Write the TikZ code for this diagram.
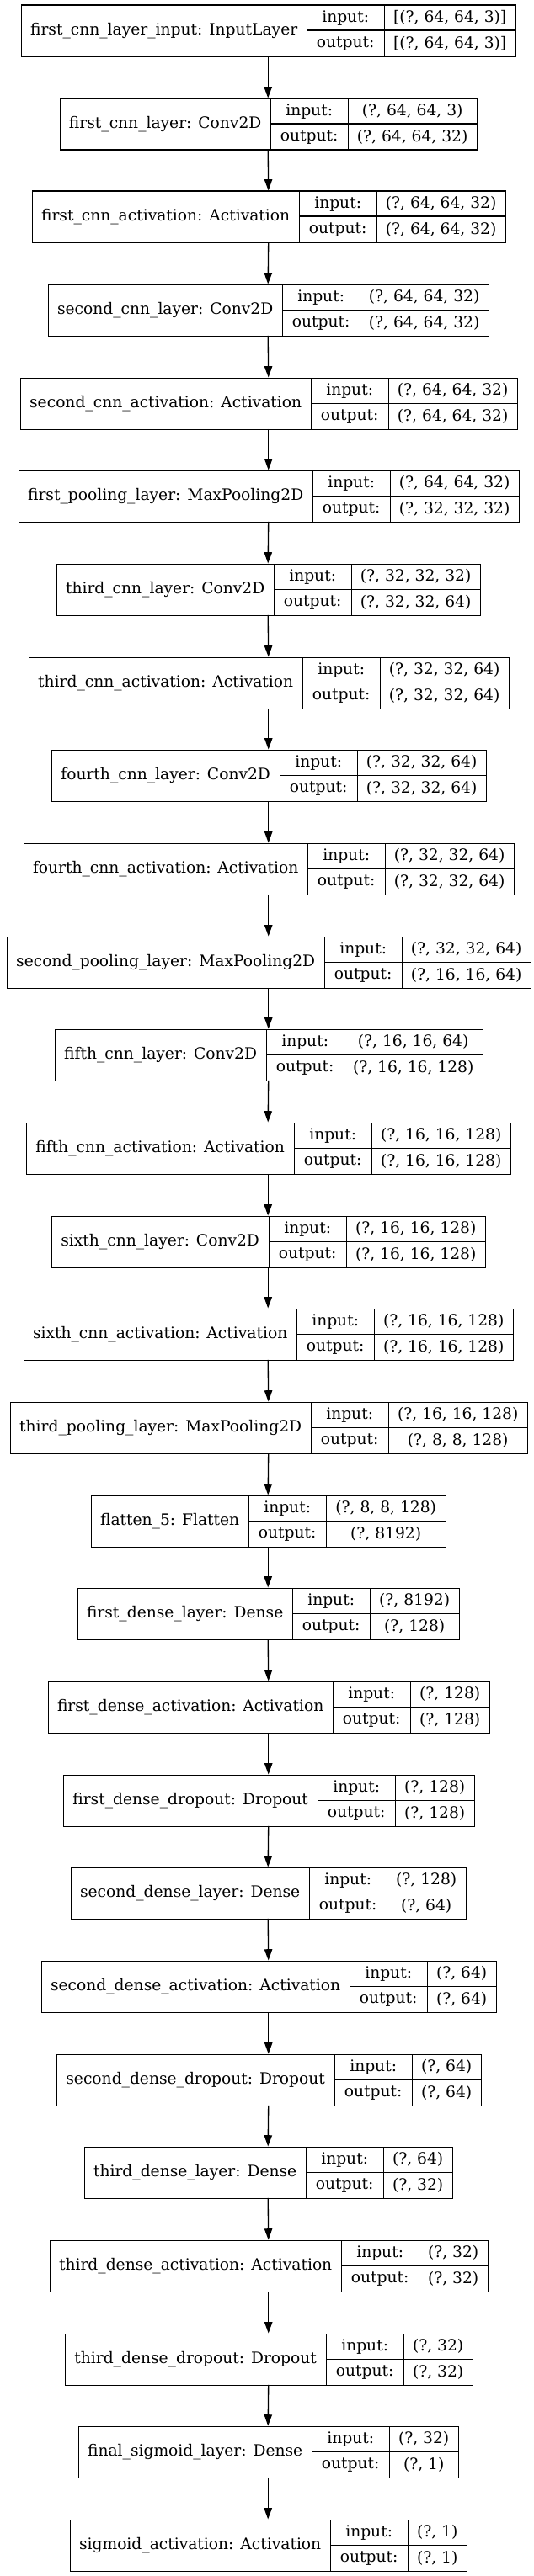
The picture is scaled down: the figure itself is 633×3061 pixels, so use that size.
\documentclass[tikz,border=0pt]{standalone}
\usepackage{fontspec}
\setmainfont{DejaVu Serif}
\usetikzlibrary{arrows.meta}
\newlength\lyA \newlength\lyC \newlength\lyT
\newcommand\lfont{\fontsize{18.67}{22}\selectfont}
\tikzset{
  cell/.style={draw=black, line width=1.33pt, inner sep=0pt, anchor=north west, font=\lfont},
  rec/.style={inner sep=0pt, minimum height=61pt, anchor=north west},
  flow/.style={line width=1.33pt, -{Triangle[length=13.3pt,width=9.3pt]}}
}
\newcommand\layerdata{%
\LAYER{0}{first\_cnn\_layer\_input: InputLayer}{[(?, 64, 64, 3)]}{[(?, 64, 64, 3)]}%
\LAYER{1}{first\_cnn\_layer: Conv2D}{(?, 64, 64, 3)}{(?, 64, 64, 32)}%
\LAYER{2}{first\_cnn\_activation: Activation}{(?, 64, 64, 32)}{(?, 64, 64, 32)}%
\LAYER{3}{second\_cnn\_layer: Conv2D}{(?, 64, 64, 32)}{(?, 64, 64, 32)}%
\LAYER{4}{second\_cnn\_activation: Activation}{(?, 64, 64, 32)}{(?, 64, 64, 32)}%
\LAYER{5}{first\_pooling\_layer: MaxPooling2D}{(?, 64, 64, 32)}{(?, 32, 32, 32)}%
\LAYER{6}{third\_cnn\_layer: Conv2D}{(?, 32, 32, 32)}{(?, 32, 32, 64)}%
\LAYER{7}{third\_cnn\_activation: Activation}{(?, 32, 32, 64)}{(?, 32, 32, 64)}%
\LAYER{8}{fourth\_cnn\_layer: Conv2D}{(?, 32, 32, 64)}{(?, 32, 32, 64)}%
\LAYER{9}{fourth\_cnn\_activation: Activation}{(?, 32, 32, 64)}{(?, 32, 32, 64)}%
\LAYER{10}{second\_pooling\_layer: MaxPooling2D}{(?, 32, 32, 64)}{(?, 16, 16, 64)}%
\LAYER{11}{fifth\_cnn\_layer: Conv2D}{(?, 16, 16, 64)}{(?, 16, 16, 128)}%
\LAYER{12}{fifth\_cnn\_activation: Activation}{(?, 16, 16, 128)}{(?, 16, 16, 128)}%
\LAYER{13}{sixth\_cnn\_layer: Conv2D}{(?, 16, 16, 128)}{(?, 16, 16, 128)}%
\LAYER{14}{sixth\_cnn\_activation: Activation}{(?, 16, 16, 128)}{(?, 16, 16, 128)}%
\LAYER{15}{third\_pooling\_layer: MaxPooling2D}{(?, 16, 16, 128)}{(?, 8, 8, 128)}%
\LAYER{16}{flatten\_5: Flatten}{(?, 8, 8, 128)}{(?, 8192)}%
\LAYER{17}{first\_dense\_layer: Dense}{(?, 8192)}{(?, 128)}%
\LAYER{18}{first\_dense\_activation: Activation}{(?, 128)}{(?, 128)}%
\LAYER{19}{first\_dense\_dropout: Dropout}{(?, 128)}{(?, 128)}%
\LAYER{20}{second\_dense\_layer: Dense}{(?, 128)}{(?, 64)}%
\LAYER{21}{second\_dense\_activation: Activation}{(?, 64)}{(?, 64)}%
\LAYER{22}{second\_dense\_dropout: Dropout}{(?, 64)}{(?, 64)}%
\LAYER{23}{third\_dense\_layer: Dense}{(?, 64)}{(?, 32)}%
\LAYER{24}{third\_dense\_activation: Activation}{(?, 32)}{(?, 32)}%
\LAYER{25}{third\_dense\_dropout: Dropout}{(?, 32)}{(?, 32)}%
\LAYER{26}{final\_sigmoid\_layer: Dense}{(?, 32)}{(?, 1)}%
\LAYER{27}{sigmoid\_activation: Activation}{(?, 1)}{(?, 1)}%
}
\newcommand\measurelayer[4]{%
  \settowidth\lyA{\lfont #2}\addtolength\lyA{22pt}%
  \settowidth\lyC{\lfont #3}\settowidth\lyT{\lfont #4}%
  \ifdim\lyT>\lyC \setlength\lyC{\lyT}\fi
  \addtolength\lyC{22pt}%
  \expandafter\xdef\csname lyA#1\endcsname{\the\lyA}%
  \expandafter\xdef\csname lyC#1\endcsname{\the\lyC}%
}
\newcommand\drawlayer[4]{%
  \pgfmathsetmacro\lyWa{round(\csname lyA#1\endcsname)}%
  \pgfmathsetmacro\lyWc{round(\csname lyC#1\endcsname)}%
  \pgfmathsetmacro\lyW{\lyWa+92+\lyWc}%
  \pgfmathsetmacro\lyY{-(round(6+#1*110.67)-0.5)}%
  \pgfmathsetmacro\lyYm{\lyY-30}%
  \pgfmathsetmacro\lyL{floor(318-\lyW/2)+0.5}%
  \pgfmathsetmacro\lyM{\lyL+\lyWa}%
  \pgfmathsetmacro\lyR{\lyM+92}%
  \node[rec, minimum width=\lyW pt] (L#1) at (\lyL pt,\lyY pt) {};
  \node[cell, minimum width=\lyWa pt, minimum height=61pt] (L#1-l) at (\lyL pt,\lyY pt) {#2};
  \node[cell, minimum width=92pt, minimum height=30pt] (L#1-i) at (\lyM pt,\lyY pt) {input:};
  \node[cell, minimum width=92pt, minimum height=31pt] (L#1-o) at (\lyM pt,\lyYm pt) {output:};
  \node[cell, minimum width=\lyWc pt, minimum height=30pt] (L#1-is) at (\lyR pt,\lyY pt) {#3};
  \node[cell, minimum width=\lyWc pt, minimum height=31pt] (L#1-os) at (\lyR pt,\lyYm pt) {#4};
}
\begin{document}%
\let\LAYER\measurelayer\layerdata%
\begin{tikzpicture}
\useasboundingbox[fill=white] (0,0) rectangle (633pt,-3061pt);
\let\LAYER\drawlayer
\layerdata
\foreach \i in {0,...,26} {
  \pgfmathtruncatemacro\j{\i+1}
  \draw[flow] (L\i.south) -- (L\j.north);
}
\end{tikzpicture}
\end{document}
